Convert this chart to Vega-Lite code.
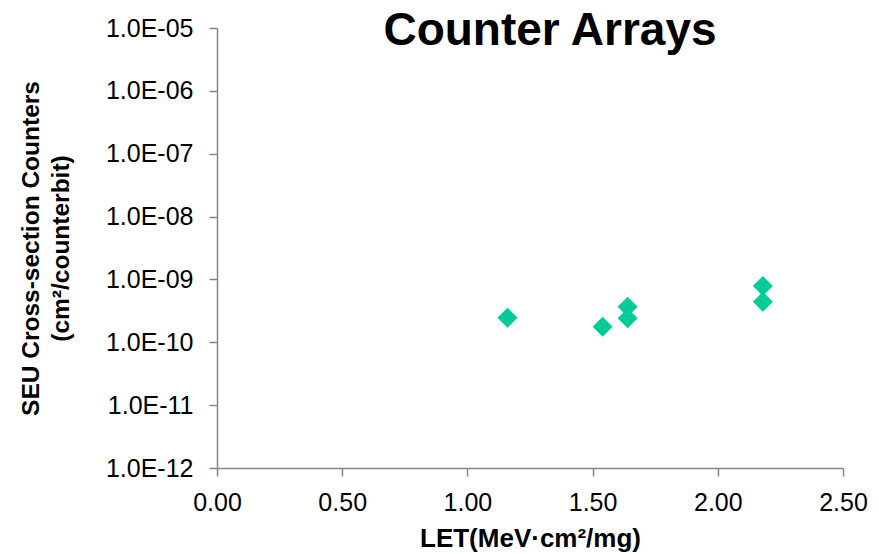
{
  "$schema": "https://vega.github.io/schema/vega-lite/v6.json",
  "width": 626,
  "height": 440,
  "autosize": {"type": "none"},
  "padding": {"left": 217, "top": 28, "right": 36, "bottom": 86},
  "background": "white",
  "title": {
    "text": "Counter Arrays",
    "font": "Liberation Sans",
    "fontSize": 46,
    "fontWeight": "bold",
    "color": "#000000",
    "anchor": "middle",
    "frame": "group",
    "baseline": "alphabetic",
    "offset": 0,
    "dx": 20,
    "dy": 75
  },
  "config": {
    "view": {"stroke": null},
    "axis": {
      "grid": false,
      "domainColor": "#868686",
      "tickColor": "#868686",
      "domainWidth": 1.5,
      "tickWidth": 1.5,
      "tickSize": 8,
      "labelFont": "Liberation Sans",
      "labelFontSize": 25,
      "labelColor": "#000000",
      "titleFont": "Liberation Sans",
      "titleFontWeight": "bold",
      "titleColor": "#000000"
    }
  },
  "data": {
    "values": [
      {"let": 1.16, "xs": 2.46e-10},
      {"let": 1.54, "xs": 1.77e-10},
      {"let": 1.64, "xs": 3.68e-10},
      {"let": 1.64, "xs": 2.41e-10},
      {"let": 2.18, "xs": 7.87e-10},
      {"let": 2.18, "xs": 4.42e-10}
    ]
  },
  "mark": {"type": "point", "shape": "diamond", "filled": true, "size": 400, "color": "#00CC99", "opacity": 1},
  "encoding": {
    "x": {
      "field": "let",
      "type": "quantitative",
      "scale": {"domain": [0, 2.5], "nice": false, "zero": false},
      "axis": {
        "values": [0, 0.5, 1, 1.5, 2, 2.5],
        "format": ".2f",
        "labelPadding": 14,
        "labelFlush": false,
        "title": "LET(MeV·cm²/mg)",
        "titleFontSize": 26,
        "titleBaseline": "top",
        "titleY": 57
      }
    },
    "y": {
      "field": "xs",
      "type": "quantitative",
      "scale": {"type": "log", "domain": [1e-12, 1e-5], "nice": false},
      "axis": {
        "values": [1e-12, 1e-11, 1e-10, 1e-9, 1e-8, 1e-7, 1e-6, 1e-5],
        "labelExpr": "'1.0E-' + (abs(round(log(datum.value)/LN10)) < 10 ? '0' : '') + abs(round(log(datum.value)/LN10))",
        "labelPadding": 16,
        "labelFlush": false,
        "title": ["SEU Cross-section  Counters", "(cm²/counterbit)"],
        "titleFontSize": 24.5,
        "titleLineHeight": 30,
        "titleBaseline": "top",
        "titleAlign": "center",
        "titleAngle": 270,
        "titleX": -198,
        "titleY": 220
      }
    }
  }
}
